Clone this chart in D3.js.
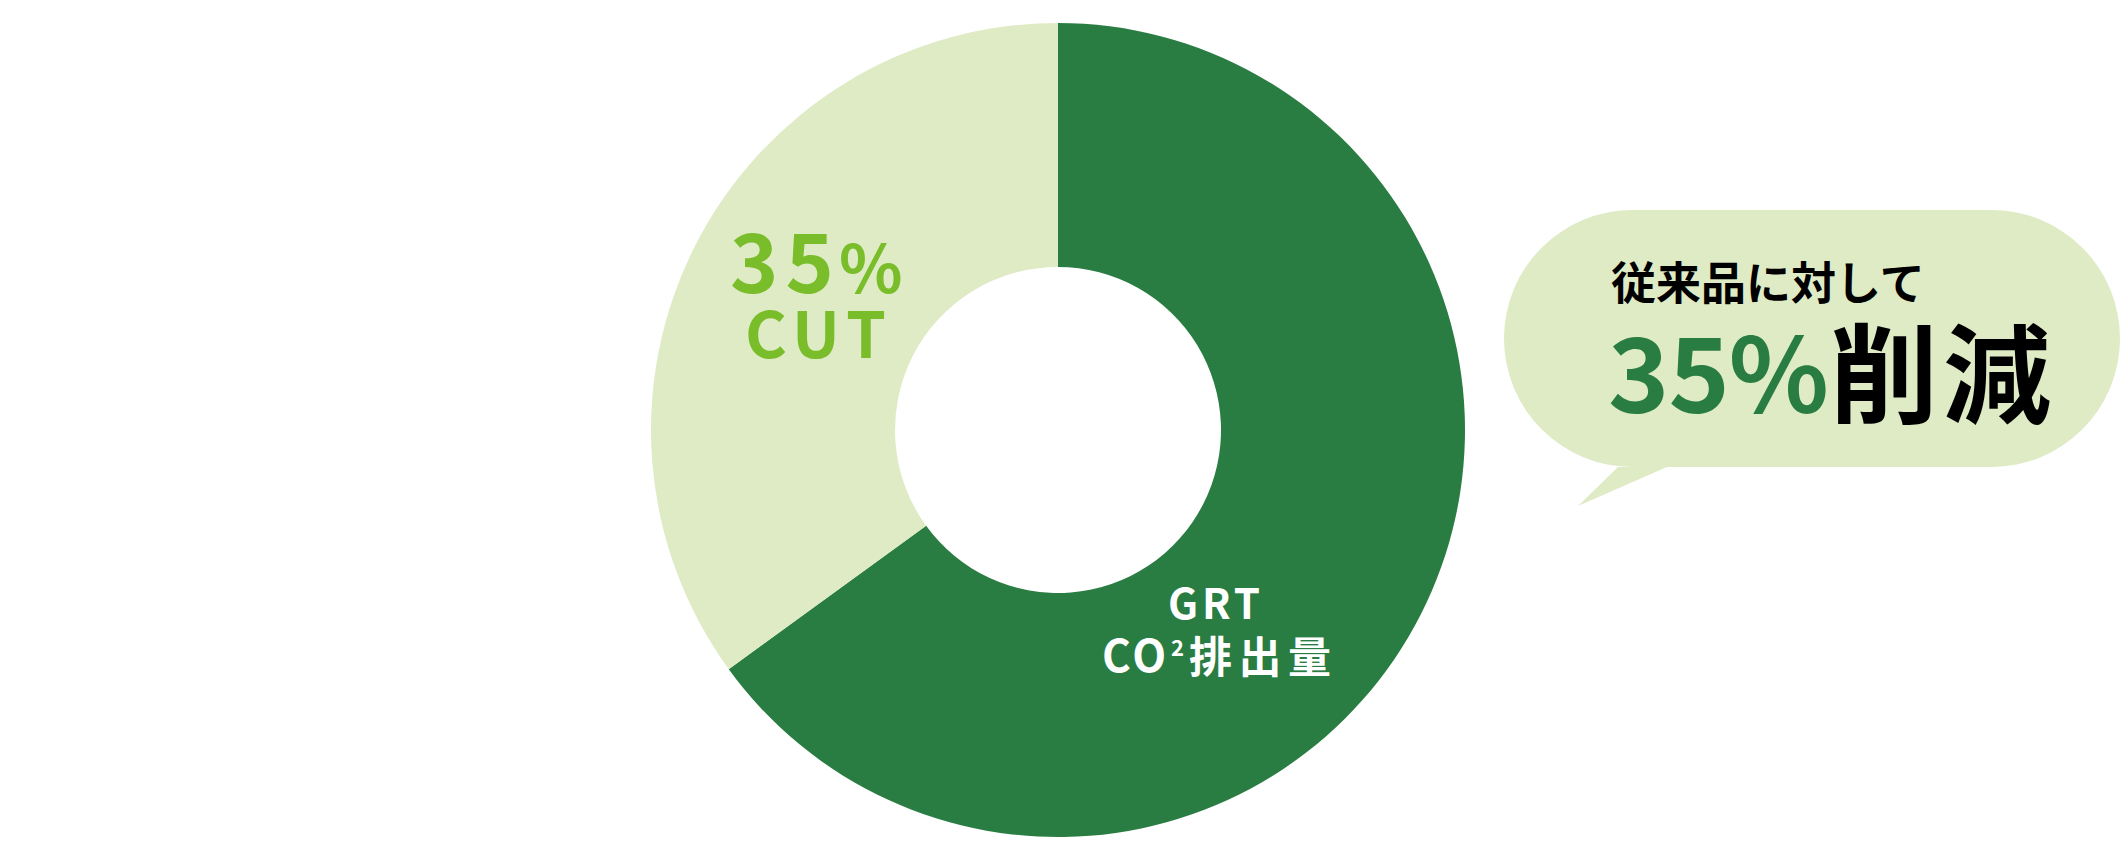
<!DOCTYPE html>
<html>
<head>
<meta charset="utf-8">
<script src="https://cdn.jsdelivr.net/npm/d3@7"></script>
<style>
  html, body { margin: 0; padding: 0; background: #fff; }
  svg { display: block; font-family: "Noto Sans CJK JP", "Noto Sans", sans-serif; font-weight: 700; }
</style>
</head>
<body>
<div id="chart"></div>
<script>
// chart data
const categories = ["GRT CO2排出量", "削減分"];
const values = [65, 35];
const cutLabel = ["35", "%"];
const cutWord = "CUT";
const grtLines = ["GRT", "CO", "2", "排出量"];
const bubbleLines = ["従来品に対して", "35%", "削減"];

const W = 2120, H = 860;
const cx = 1058, cy = 430;
const outerR = 407, innerR = 163;

const colour = d3.scaleOrdinal()
    .domain(categories)
    .range(["#2a7d42", "#deebc5"]);

const svg = d3.select("#chart").append("svg")
    .attr("width", W).attr("height", H);

// donut
const pie = d3.pie().sort(null).value(d => d)
    .startAngle(0).endAngle(2 * Math.PI);
const arc = d3.arc().innerRadius(innerR).outerRadius(outerR);

const g = svg.append("g").attr("transform", `translate(${cx},${cy})`);
g.selectAll("path").data(pie(values)).enter().append("path")
    .attr("d", arc)
    .attr("fill", (d, i) => colour(categories[i]));

// small helper; len stretches the spacing out to a width
function label(x, y, size, fill, str, opts = {}) {
    const t = svg.append("text")
        .attr("x", x).attr("y", y)
        .attr("fill", fill)
        .attr("font-size", size)
        .text(str);
    if (opts.len) t.attr("textLength", opts.len).attr("lengthAdjust", "spacing");
    if (opts.ls) t.attr("letter-spacing", opts.ls);
    return t;
}

// "35% CUT" on the light slice
const lightGreen = "#7abd2a";
label(730, 293, 82, lightGreen, cutLabel[0], { ls: 7 });
label(839, 293, 66, lightGreen, cutLabel[1]);
label(745, 358, 64, lightGreen, cutWord, { len: 141 });

// label on the dark slice
label(1168, 619, 42, "#fff", grtLines[0], { len: 92 });
label(1102, 672, 44, "#fff", grtLines[1], { ls: 3 });
label(1171, 656, 22, "#fff", grtLines[2]);
label(1189, 673, 43, "#fff", grtLines[3], { len: 142 });

// speech bubble
const bx0 = 1504, bx1 = 2120, by0 = 210, by1 = 467, br = (by1 - by0) / 2;
const bubble = d3.path();
bubble.moveTo(bx0 + br, by0);
bubble.lineTo(bx1 - br, by0);
bubble.arc(bx1 - br, by0 + br, br, -Math.PI / 2, Math.PI / 2);
bubble.lineTo(1667, by1);
bubble.lineTo(1578, 506);
bubble.lineTo(1618, by1);
bubble.lineTo(bx0 + br, by1);
bubble.arc(bx0 + br, by0 + br, br, Math.PI / 2, Math.PI * 3 / 2);
bubble.closePath();
svg.append("path").attr("d", bubble.toString()).attr("fill", "#deebc5");

label(1611, 300, 45, "#000", bubbleLines[0]);
label(1608, 413, 104, "#2a7d42", bubbleLines[1], { len: 221 });
label(1830, 415, 108, "#000", bubbleLines[2], { ls: 5 });
</script>
</body>
</html>
